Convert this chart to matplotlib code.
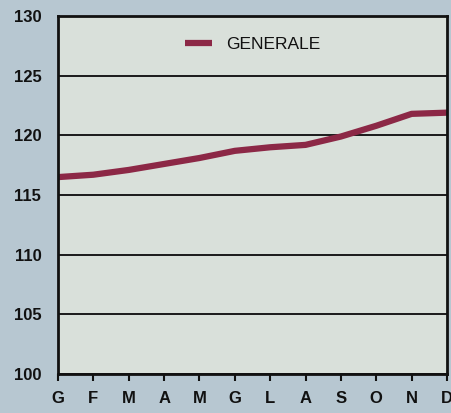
import matplotlib
matplotlib.use("Agg")
import matplotlib.pyplot as plt

# dati
mesi = ["G", "F", "M", "A", "M", "G", "L", "A", "S", "O", "N", "D"]
generale = [116.5, 116.7, 117.1, 117.6, 118.1, 118.7, 119.0, 119.2, 119.9, 120.8, 121.8, 121.9]
y_ticks = [100, 105, 110, 115, 120, 125, 130]

fig = plt.figure(figsize=(4.52, 4.13), dpi=100, facecolor="#b7c7d1")
ax = fig.add_axes([58 / 452, 1 - 374 / 413, 389 / 452, 358 / 413])
ax.set_facecolor("#d9e0da")

x = list(range(len(mesi)))
ax.plot(x, generale, color="#8c2846", lw=4.5, solid_capstyle="butt", label="GENERALE")

ax.set_xlim(0, 11)
ax.set_ylim(100, 130)
ax.set_yticks(y_ticks)
ax.set_xticks(x)
ax.set_xticklabels(mesi)
ax.grid(axis="y", color="#1a1a1a", lw=1.4)
ax.set_axisbelow(True)

for s in ax.spines.values():
    s.set_color("#111111")
    s.set_linewidth(2)

ax.tick_params(axis="y", length=0, pad=12, labelsize=12, colors="#111111")
ax.tick_params(axis="x", length=5, width=1.5, direction="out", pad=7,
               labelsize=12, colors="#111111")
for lab in ax.get_xticklabels() + ax.get_yticklabels():
    lab.set_fontweight("bold")
    lab.set_family("Liberation Sans")

leg = ax.legend(loc="upper center", bbox_to_anchor=(0.5, 0.985), frameon=False,
                handlelength=1.6, prop={"family": "Liberation Sans", "size": 12.5})
for t in leg.get_texts():
    t.set_color("#111111")

fig.savefig("out.png", dpi=100, facecolor=fig.get_facecolor())
